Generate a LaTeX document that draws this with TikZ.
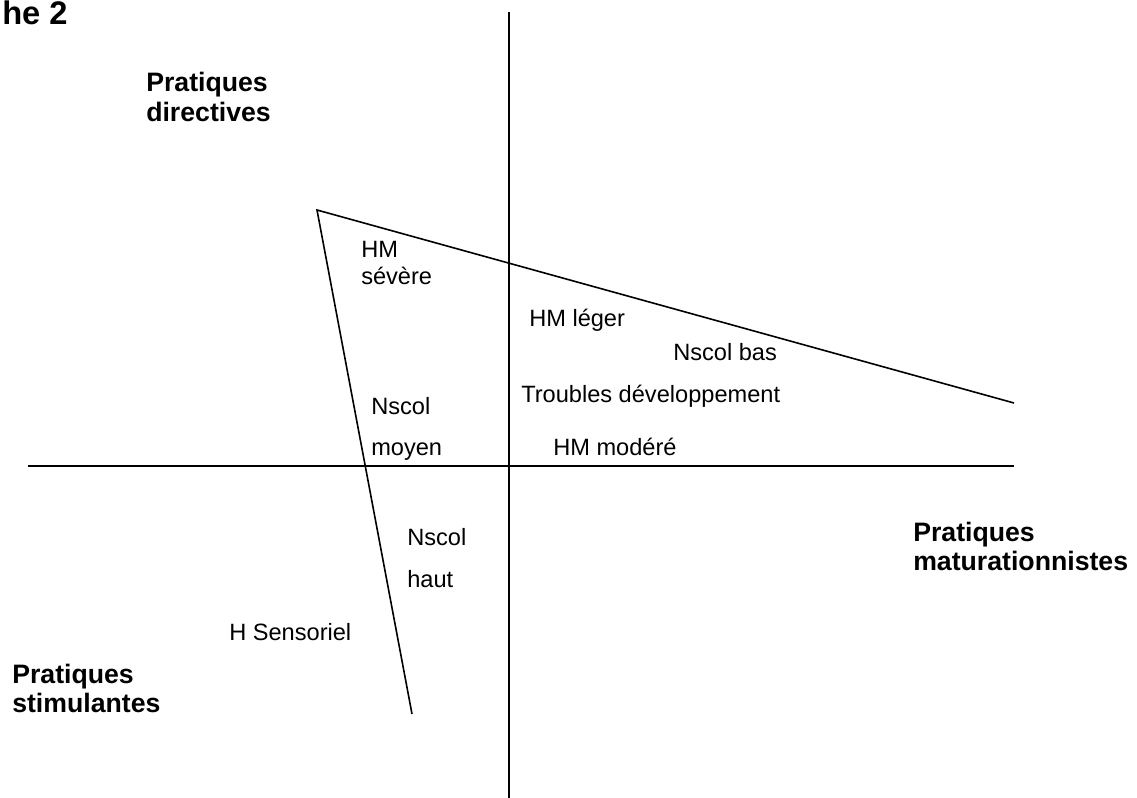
\documentclass[tikz,border=0pt]{standalone}
\usepackage{fontspec}
\setmainfont{Liberation Sans}
\begin{document}
\begin{tikzpicture}[x=0.75pt,y=-0.75pt,
  lbl/.style={anchor=base west,inner sep=0pt,font=\fontsize{17.7}{20}\selectfont},
  blbl/.style={anchor=base west,inner sep=0pt,font=\fontsize{20}{23}\selectfont\bfseries},
  axis/.style={line width=1.2pt},
  tri/.style={line width=1.2pt}]
\useasboundingbox (0,0) rectangle (1137,798);
% axes
\coordinate (vtop) at (509,12);
\coordinate (vbot) at (509,798);
\coordinate (hleft) at (28,466);
\coordinate (hright) at (1014,466);
\draw[axis] (vtop) -- (vbot);
\draw[axis] (hleft) -- (hright);
% triangle (open)
\coordinate (apex) at (317,210);
\coordinate (tright) at (1014,403);
\coordinate (tbot) at (412,714);
\draw[tri] (tright) -- (apex) -- (tbot);
% title
\node[anchor=base west,inner sep=0pt,font=\fontsize{24.5}{28}\selectfont\bfseries] (title) at (2,25) {he 2};
% bold labels
\node[blbl] (pd1) at (146,92) {Pratiques};
\node[blbl] (pd2) at (146,122) {directives};
\node[blbl] (pm1) at (913,541) {Pratiques};
\node[blbl] (pm2) at (913,570) {maturationnistes};
\node[blbl] (ps1) at (12,683) {Pratiques};
\node[blbl] (ps2) at (12,712) {stimulantes};
% normal labels
\node[lbl] (hms1) at (361,258) {HM};
\node[lbl] (hms2) at (361,285) {sévère};
\node[lbl] (hml) at (529,326) {HM léger};
\node[lbl] (nb) at (673,360) {Nscol bas};
\node[lbl] (td) at (521,402) {Troubles développement};
\node[lbl] (nm1) at (371,414) {Nscol};
\node[lbl] (nm2) at (371,455) {moyen};
\node[lbl] (hmm) at (553,455) {HM modéré};
\node[lbl] (nh1) at (407,545) {Nscol};
\node[lbl] (nh2) at (407,587) {haut};
\node[lbl] (hs) at (229,640) {H Sensoriel};
\end{tikzpicture}
\end{document}
